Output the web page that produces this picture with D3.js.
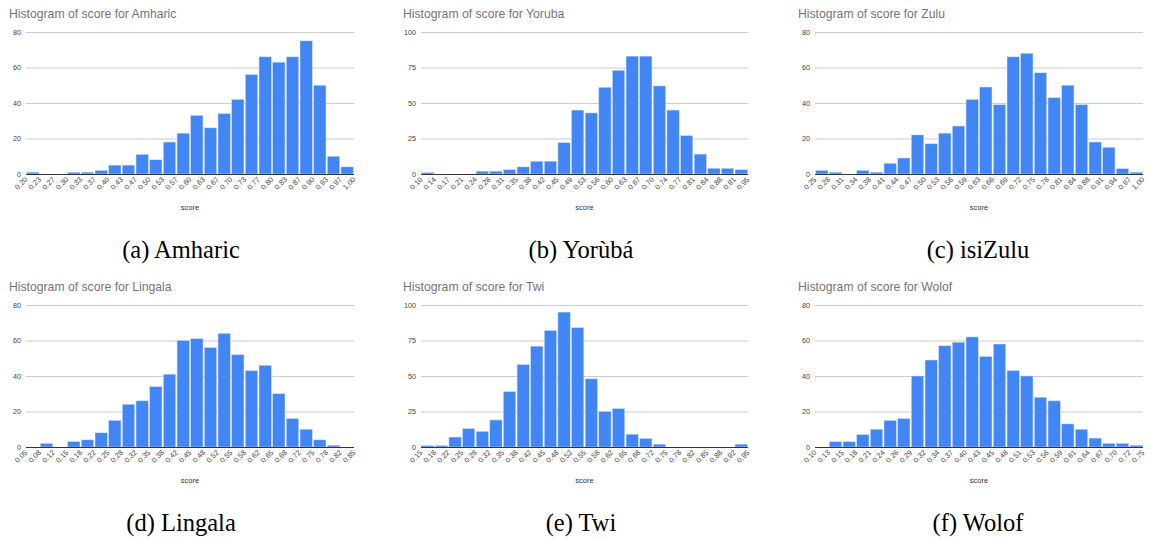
<!DOCTYPE html>
<html>
<head>
<meta charset="utf-8">
<script src="https://cdn.jsdelivr.net/npm/d3@7"></script>
<style>
  body { margin: 0; background: #fff; }
  svg { display: block; }
</style>
</head>
<body>
<div id="chart"></div>
<script>
// chart titles and captions
let languages = ["Amharic", "Yoruba", "Zulu", "Lingala", "Twi", "Wolof"];
let captions = ["(a) Amharic", "(b) Yorùbá", "(c) isiZulu", "(d) Lingala", "(e) Twi", "(f) Wolof"];

// bin edge labels (25 edges, 24 bins each)
let amharicTicks = ["0.20","0.23","0.27","0.30","0.33","0.37","0.40","0.43","0.47","0.50","0.53","0.57","0.60","0.63","0.67","0.70","0.73","0.77","0.80","0.83","0.87","0.90","0.93","0.97","1.00"];
let yorubaTicks = ["0.10","0.14","0.17","0.21","0.24","0.28","0.31","0.35","0.38","0.42","0.45","0.49","0.53","0.56","0.60","0.63","0.67","0.70","0.74","0.77","0.81","0.84","0.88","0.91","0.95"];
let zuluTicks = ["0.25","0.28","0.31","0.34","0.38","0.41","0.44","0.47","0.50","0.53","0.56","0.59","0.63","0.66","0.69","0.72","0.75","0.78","0.81","0.84","0.88","0.91","0.94","0.97","1.00"];
let lingalaTicks = ["0.05","0.08","0.12","0.15","0.18","0.22","0.25","0.28","0.32","0.35","0.38","0.42","0.45","0.48","0.52","0.55","0.58","0.62","0.65","0.68","0.72","0.75","0.78","0.82","0.85"];
let twiTicks = ["0.15","0.18","0.22","0.25","0.28","0.32","0.35","0.38","0.42","0.45","0.48","0.52","0.55","0.58","0.62","0.65","0.68","0.72","0.75","0.78","0.82","0.85","0.88","0.92","0.95"];
let wolofTicks = ["0.10","0.13","0.15","0.18","0.21","0.24","0.26","0.29","0.32","0.34","0.37","0.40","0.43","0.45","0.48","0.51","0.53","0.56","0.59","0.61","0.64","0.67","0.70","0.72","0.75"];

// counts per bin
let amharicCounts = [1, 0, 0, 1, 1, 2, 5, 5, 11, 8, 18, 23, 33, 26, 34, 42, 56, 66, 63, 66, 75, 50, 10, 4];
let yorubaCounts = [1, 0, 0, 0, 2, 2, 3, 5, 9, 9, 22, 45, 43, 61, 73, 83, 83, 62, 45, 27, 14, 4, 4, 3];
let zuluCounts = [2, 1, 0, 2, 1, 6, 9, 22, 17, 23, 27, 42, 49, 39, 66, 68, 57, 43, 50, 39, 18, 15, 3, 1];
let lingalaCounts = [0, 2, 0, 3, 4, 8, 15, 24, 26, 34, 41, 60, 61, 56, 64, 52, 43, 46, 30, 16, 10, 4, 1, 0];
let twiCounts = [1, 1, 7, 13, 11, 19, 39, 58, 71, 82, 95, 84, 48, 25, 27, 9, 6, 2, 0, 0, 0, 0, 0, 2];
let wolofCounts = [0, 3, 3, 7, 10, 15, 16, 40, 49, 57, 59, 62, 51, 58, 43, 40, 28, 26, 13, 10, 5, 2, 2, 1];

// y axis maxima / ticks
let yMaxes = [80, 100, 80, 80, 100, 80];
let yTickSets = [[0,20,40,60,80], [0,25,50,75,100], [0,20,40,60,80], [0,20,40,60,80], [0,25,50,75,100], [0,20,40,60,80]];

let tickSets = [amharicTicks, yorubaTicks, zuluTicks, lingalaTicks, twiTicks, wolofTicks];
let countSets = [amharicCounts, yorubaCounts, zuluCounts, lingalaCounts, twiCounts, wolofCounts];

// layout
let colLeft = [26, 421, 815];
let colRight = [354, 748, 1143];
let colTitle = [9, 403, 798];
let colCaption = [181, 581, 978];
let rowTop = [32, 305];
let rowBottom = [174, 447];

var svg = d3.select('#chart').append('svg')
  .attr('width', 1151)
  .attr('height', 538);

languages.forEach(function(lang, i) {
  let col = i % 3, row = Math.floor(i / 3);
  let left = colLeft[col], right = colRight[col];
  let top = rowTop[row], bottom = rowBottom[row];
  let counts = countSets[i], ticks = tickSets[i];

  let x = d3.scaleLinear().domain([0, counts.length]).range([left, right]);
  let y = d3.scaleLinear().domain([0, yMaxes[i]]).range([bottom, top]);

  let g = svg.append('g');

  // title
  g.append('text')
    .attr('x', colTitle[col])
    .attr('y', top - 14)
    .attr('font-family', 'Liberation Sans, Arial, sans-serif')
    .attr('font-size', 12.2)
    .attr('fill', '#757575')
    .text('Histogram of score for ' + lang);

  // gridlines
  g.selectAll('.grid')
    .data(yTickSets[i].slice(1))
    .enter().append('line')
    .attr('x1', left).attr('x2', right)
    .attr('y1', function(d) { return y(d) + 0.5; })
    .attr('y2', function(d) { return y(d) + 0.5; })
    .attr('stroke', '#cccccc')
    .attr('stroke-width', 1);

  // y labels
  g.selectAll('.ylab')
    .data(yTickSets[i])
    .enter().append('text')
    .attr('x', left - 5)
    .attr('y', function(d) { return y(d) + 2.5; })
    .attr('text-anchor', 'end')
    .attr('font-family', 'Liberation Sans, Arial, sans-serif')
    .attr('font-size', 7.2)
    .attr('fill', '#444')
    .text(function(d) { return d; });

  // bars
  g.selectAll('.bar')
    .data(counts)
    .enter().append('rect')
    .attr('x', function(d, j) { return x(j) + 0.7; })
    .attr('width', function(d, j) { return x(j + 1) - x(j) - 1.4; })
    .attr('y', function(d) { return y(d); })
    .attr('height', function(d) { return bottom - y(d); })
    .attr('fill', '#4285f4')
    .attr('stroke', '#c6d9fb')
    .attr('stroke-width', 0.5);

  // baseline
  g.append('line')
    .attr('x1', left).attr('x2', right)
    .attr('y1', bottom + 0.5).attr('y2', bottom + 0.5)
    .attr('stroke', '#333')
    .attr('stroke-width', 1);

  // x tick labels, rotated
  g.selectAll('.xlab')
    .data(ticks)
    .enter().append('text')
    .attr('transform', function(d, j) {
      return 'translate(' + (x(j) + 2) + ',' + (bottom + 6) + ') rotate(-45)';
    })
    .attr('text-anchor', 'end')
    .attr('font-family', 'Liberation Sans, Arial, sans-serif')
    .attr('font-size', 7.4)
    .attr('fill', '#444')
    .text(function(d) { return d; });

  // axis title
  g.append('text')
    .attr('x', (left + right) / 2)
    .attr('y', bottom + 35.5)
    .attr('text-anchor', 'middle')
    .attr('font-family', 'Liberation Sans, Arial, sans-serif')
    .attr('font-size', 7.5)
    .attr('fill', '#333')
    .text('score');

  // caption
  g.append('text')
    .attr('x', colCaption[col])
    .attr('y', bottom + 84)
    .attr('text-anchor', 'middle')
    .attr('font-family', 'Liberation Serif, Times New Roman, serif')
    .attr('font-size', 24.5)
    .attr('fill', '#000')
    .text(captions[i]);
});
</script>
</body>
</html>
